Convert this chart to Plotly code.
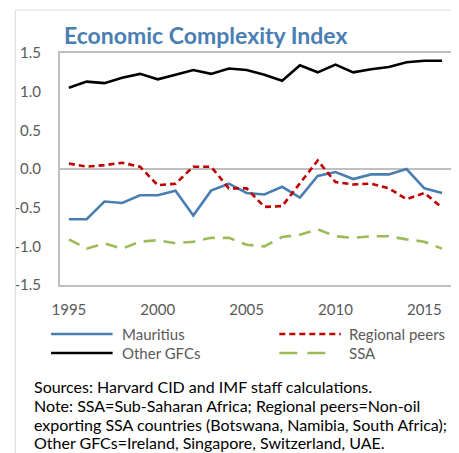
import plotly.graph_objects as go

years = list(range(1995, 2017))
mauritius = [-0.65, -0.65, -0.42, -0.44, -0.34, -0.34, -0.28, -0.60, -0.28, -0.19, -0.31,
             -0.33, -0.23, -0.37, -0.09, -0.04, -0.13, -0.07, -0.07, 0.00, -0.25, -0.31]
regional_peers = [0.07, 0.03, 0.05, 0.08, 0.03, -0.21, -0.19, 0.03, 0.03, -0.25, -0.25,
                  -0.49, -0.48, -0.18, 0.11, -0.17, -0.20, -0.19, -0.25, -0.39, -0.31, -0.50]
other_gfcs = [1.05, 1.13, 1.11, 1.18, 1.23, 1.16, 1.22, 1.28, 1.23, 1.30, 1.28,
              1.22, 1.14, 1.34, 1.25, 1.35, 1.25, 1.29, 1.32, 1.38, 1.40, 1.40]
ssa = [-0.91, -1.03, -0.96, -1.03, -0.94, -0.92, -0.96, -0.94, -0.89, -0.89, -0.98,
       -1.00, -0.88, -0.85, -0.78, -0.87, -0.89, -0.87, -0.87, -0.91, -0.94, -1.03]

y_tickvals = [1.5, 1.0, 0.5, 0.0, -0.5, -1.0, -1.5]
y_ticktext = ["1.5", "1.0", "0.5", "0.0", "-0.5", "-1.0", "-1.5"]
x_tickvals = [1995, 2000, 2005, 2010, 2015]

title_text = "Economic Complexity Index"
note_lines = [
    "Sources: Harvard CID and IMF staff calculations.",
    "Note: SSA=Sub-Saharan Africa; Regional peers=Non-oil",
    "exporting SSA countries (Botswana, Namibia, South Africa);",
    "Other GFCs=Ireland, Singapore, Switzerland, UAE.",
]

series = [
    ("Mauritius", mauritius, "#4a7eb3", "solid"),
    ("Regional peers", regional_peers, "#c00000", "6px,4px"),
    ("Other GFCs", other_gfcs, "#000000", "solid"),
    ("SSA", ssa, "#9bbb59", "12px,8px"),
]

# page body has an 8px margin; figure is sized/placed to fit the 459x453 window
OFF = 8
W, H = 459 - OFF, 453 - OFF
# plot area in window pixels: x 59..453, y 53..285
L, T = 59 - OFF, 53 - OFF
R = W - (453 - OFF)
B = H - (285 - OFF)
PW, PH = W - L - R, H - T - B

def px(x):
    return (x - OFF - L) / PW

def py(y):
    return (H - B - (y - OFF)) / PH

FONT = "Lato, Open Sans, sans-serif"

fig = go.Figure()
for name, vals, color, dash in series:
    fig.add_trace(go.Scatter(x=years, y=vals, mode="lines", name=name,
                             line=dict(color=color, width=2.6, dash=dash),
                             showlegend=False))

shapes = []
annotations = []

# outer frame (left and top)
shapes.append(dict(type="line", xref="paper", yref="paper", x0=px(14), x1=px(14), y0=py(10), y1=py(460),
                   line=dict(color="#d9d9d9", width=1)))
shapes.append(dict(type="line", xref="paper", yref="paper", x0=px(14), x1=px(470), y0=py(10), y1=py(10),
                   line=dict(color="#d9d9d9", width=1)))
# zero line
shapes.append(dict(type="line", xref="paper", yref="y", x0=0, x1=1, y0=0, y1=0,
                   line=dict(color="#bfbfbf", width=2), layer="below"))

# manual legend
legend_pos = [(50, 112, 119, 334), (280, 342, 348, 334), (50, 112, 119, 353), (280, 334, 348, 353)]
for (name, vals, color, dash), (lx0, lx1, tx, ly) in zip(series, legend_pos):
    ldash = dash
    if name == "SSA":
        ldash = "18px,10px"
    shapes.append(dict(type="line", xref="paper", yref="paper", x0=px(lx0), x1=px(lx1), y0=py(ly), y1=py(ly),
                       line=dict(color=color, width=2.6, dash=ldash)))
    annotations.append(dict(text=name, xref="paper", yref="paper", x=px(tx), y=py(ly),
                            xanchor="left", yanchor="middle", showarrow=False,
                            font=dict(family=FONT, size=15, color="#595959")))

# title
annotations.append(dict(text="<b>" + title_text + "</b>", xref="paper", yref="paper", x=px(61), y=py(35),
                        xanchor="left", yanchor="middle", showarrow=False,
                        font=dict(family=FONT, size=23, color="#4a7eb3")))

# notes
for i, line in enumerate(note_lines):
    annotations.append(dict(text=line, xref="paper", yref="paper", x=px(31), y=py(386 + i * 19),
                            xanchor="left", yanchor="middle", showarrow=False,
                            font=dict(family=FONT, size=16, color="#000000")))

fig.update_layout(
    width=W, height=H,
    margin=dict(l=L, r=R, t=T, b=B, pad=0),
    paper_bgcolor="white", plot_bgcolor="white",
    font=dict(family=FONT, size=15, color="#595959"),
    shapes=shapes, annotations=annotations,
    xaxis=dict(range=[1994.5, 2016.5], tickvals=x_tickvals, showgrid=False, zeroline=False,
               showline=True, mirror=True, linecolor="#bfbfbf", linewidth=2, ticks="",
               ticklabelstandoff=10, tickfont=dict(size=15, color="#595959")),
    yaxis=dict(range=[-1.5, 1.5], tickvals=y_tickvals, ticktext=y_ticktext, showgrid=False,
               zeroline=False, showline=True, mirror=True, linecolor="#bfbfbf", linewidth=2,
               ticks="", ticklabelstandoff=14, tickfont=dict(size=15, color="#595959")),
)

fig.write_html("out.html")
